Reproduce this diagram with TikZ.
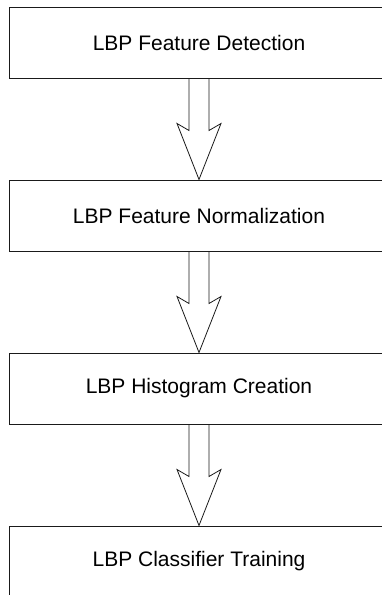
\documentclass[tikz,border=0pt]{standalone}
\usepackage{fontspec}
\setmainfont{Liberation Sans}
\usetikzlibrary{positioning,calc}

\definecolor{StageLine}{HTML}{1A1A1A}

% hollow block arrow from the bottom of one stage to the top of the next
\newcommand{\stagearrow}[2]{%
  \draw[stagearrowline] ($(#1.south)+(-10pt,0)$) -- ++(0,-52pt) -- ++(-12pt,7pt) -- (#2.north)
    -- ($(#1.south)+(22pt,-45pt)$) -- ++(-12pt,-7pt) -- ($(#1.south)+(10pt,0)$);}

\begin{document}
\begin{tikzpicture}[
    stagebox/.style={draw=StageLine,line width=1pt,minimum width=380pt,minimum height=71pt,
      inner sep=0pt,font=\fontsize{21pt}{25pt}\selectfont},
    stagearrowline/.style={draw=StageLine,line width=0.8pt,line join=miter},
    node distance=101pt
  ]
    \useasboundingbox (0,0) rectangle (381pt,-595pt);
    \node[stagebox] (detect) at (199pt,-42.5pt) {LBP Feature Detection};
    \node[stagebox,below=of detect] (normal) {LBP Feature Normalization};
    \node[stagebox,below=of normal] (histo) {LBP Histogram Creation};
    \node[stagebox,below=of histo] (train) {LBP Classifier Training};
    \stagearrow{detect}{normal}
    \stagearrow{normal}{histo}
    \stagearrow{histo}{train}
  \end{tikzpicture}
\end{document}
